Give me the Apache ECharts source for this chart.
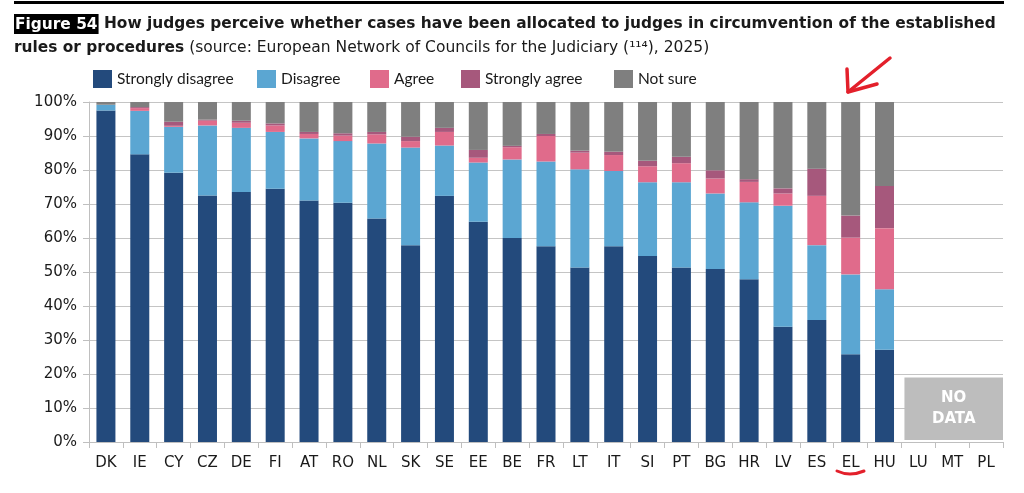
<!DOCTYPE html>
<html>
<head>
<meta charset="utf-8">
<script src="https://cdn.jsdelivr.net/npm/echarts@6/dist/echarts.min.js"></script>
<style>
html, body { margin: 0; padding: 0; background: #fff; }
#chart-container { width: 1024px; height: 493px; }
</style>
</head>
<body>
<div id="chart-container"></div>
<script>
// country codes along the x axis
let countries = ['DK', 'IE', 'CY', 'CZ', 'DE', 'FI', 'AT', 'RO', 'NL', 'SK', 'SE', 'EE', 'BE',
    'FR', 'LT', 'IT', 'SI', 'PT', 'BG', 'HR', 'LV', 'ES', 'EL', 'HU', 'LU', 'MT', 'PL'];
countries = countries.slice(0, 24).concat(['LU', 'MT', 'PL']);

// shares in %, LU / MT / PL have no data
let stronglyDisagree = [97.5, 84.6, 79.2, 72.5, 73.5, 74.5, 71.0, 70.4, 65.7, 57.9, 72.4, 64.8, 60.0,
    57.6, 51.3, 57.6, 54.7, 51.3, 50.9, 47.9, 33.9, 35.9, 25.8, 27.1, null, null, null];
let disagree = [1.7, 12.8, 13.5, 20.6, 18.9, 16.7, 18.3, 18.1, 22.1, 28.7, 14.8, 17.4, 23.1,
    24.9, 28.9, 22.1, 21.7, 25.1, 22.2, 22.6, 35.6, 22.0, 23.5, 17.8, null, null, null];
let agree = [0, 0.8, 0.3, 1.4, 1.5, 1.9, 1.3, 1.6, 2.7, 1.9, 4.0, 1.4, 3.6,
    7.5, 4.9, 4.7, 4.7, 5.6, 4.4, 6.0, 3.6, 14.5, 10.8, 18.0, null, null, null];
let stronglyAgree = [0, 0.3, 1.2, 0.3, 0.6, 0.6, 0.6, 0.7, 0.7, 1.3, 1.2, 2.3, 0.4,
    0.6, 0.6, 1.0, 1.6, 1.9, 2.4, 0.8, 1.5, 8.0, 6.5, 12.4, null, null, null];
let notSure = [0.8, 1.5, 5.8, 5.2, 5.5, 6.3, 8.8, 9.2, 8.8, 10.2, 7.6, 14.1, 12.9,
    9.4, 14.3, 14.6, 17.3, 16.1, 20.1, 22.7, 25.4, 19.6, 33.4, 24.7, null, null, null];

let seriesNames = ['Strongly disagree', 'Disagree', 'Agree', 'Strongly agree', 'Not sure'];
let seriesData = [stronglyDisagree, disagree, agree, stronglyAgree, notSure];
let colors = ['#234a7c', '#5ba6d2', '#e06b8b', '#a6587c', '#7f7f7f'];
let legendLeft = [88, 252, 365, 456, 609];

let dom = document.getElementById('chart-container');
let myChart = echarts.init(dom, null, { renderer: 'canvas' });

let fontAxis = 'DejaVu Sans';

let option = {
    animation: false,
    title: {
        left: 14,
        top: 12,
        padding: 0,
        text: '{fig|Figure 54}{b| How judges perceive whether cases have been allocated to judges in circumvention of the established}\n' +
            '{b|rules or procedures}{n| (source: European Network of Councils for the Judiciary (¹¹⁴), 2025)}',
        textStyle: {
            rich: {
                fig: { fontFamily: 'DejaVu Sans', fontWeight: 'bold', fontSize: 15.4, color: '#fff', backgroundColor: '#000', padding: [3, 1, 2, 1], lineHeight: 22 },
                b: { fontFamily: 'DejaVu Sans', fontWeight: 'bold', fontSize: 15.4, color: '#1a1a1a', lineHeight: 24 },
                n: { fontFamily: 'DejaVu Sans', fontWeight: 'normal', fontSize: 15.5, color: '#1a1a1a', lineHeight: 24 }
            }
        }
    },
    legend: seriesNames.map(function(name, i) {
        return {
            data: [name],
            left: legendLeft[i],
            top: 65,
            itemWidth: 19,
            itemHeight: 18,
            itemGap: 10,
            icon: 'rect',
            textStyle: { fontFamily: 'Lato', fontSize: 15.5, color: '#1a1a1a', padding: [2, 0, 0, 0] },
            selectedMode: false
        };
    }),
    grid: { left: 89, right: 21, top: 102, bottom: 51 },
    xAxis: {
        type: 'category',
        data: countries,
        axisLine: { lineStyle: { color: '#bfbfbf' } },
        axisTick: { show: true, length: 6, lineStyle: { color: '#bfbfbf' } },
        axisLabel: { fontFamily: fontAxis, fontSize: 15, color: '#1a1a1a', margin: 14, interval: 0 }
    },
    yAxis: {
        type: 'value',
        min: 0,
        max: 100,
        interval: 10,
        axisLine: { show: true, lineStyle: { color: '#bfbfbf' } },
        axisTick: { show: true, length: 6, lineStyle: { color: '#bfbfbf' } },
        axisLabel: { formatter: '{value}%', fontFamily: fontAxis, fontSize: 15, color: '#1a1a1a', margin: 12 },
        splitLine: { lineStyle: { color: '#c4c4c4' } }
    },
    series: seriesNames.map(function(name, i) {
        return {
            name: name,
            type: 'bar',
            stack: 'total',
            barWidth: 19,
            itemStyle: { color: colors[i] },
            data: seriesData[i]
        };
    })
};

myChart.setOption(option);

// grey "NO DATA" panel over LU, MT, PL
let band = myChart.convertToPixel({ xAxisIndex: 0 }, 'MT') - myChart.convertToPixel({ xAxisIndex: 0 }, 'LU');
let x0 = myChart.convertToPixel({ xAxisIndex: 0 }, 'LU') - band / 2 + 3;
let x1 = myChart.convertToPixel({ xAxisIndex: 0 }, 'PL') + band / 2;
let yTop = myChart.convertToPixel({ yAxisIndex: 0 }, 19);
let yBot = myChart.convertToPixel({ yAxisIndex: 0 }, 0) - 2;

myChart.setOption({
    graphic: [
        // rule above the title
        { type: 'rect', shape: { x: 14, y: 1, width: 990, height: 3 }, style: { fill: '#000' } },
        { type: 'rect', shape: { x: x0, y: yTop, width: x1 - x0, height: yBot - yTop }, style: { fill: '#bdbdbd' }, z: 10 },
        {
            type: 'text', x: (x0 + x1) / 2, y: (yTop + yBot) / 2, z: 11,
            style: { text: 'NO\nDATA', fill: '#fff', font: 'bold 15px "DejaVu Sans"', align: 'center', verticalAlign: 'middle', lineHeight: 21 }
        },
        // red hand-drawn arrow pointing at EL
        { type: 'polyline', shape: { points: [[890, 58], [848, 92]] }, style: { stroke: '#e3202b', lineWidth: 3.5, lineCap: 'round' }, z: 20 },
        { type: 'polyline', shape: { points: [[847, 69], [848, 92], [877, 84]] }, style: { stroke: '#e3202b', lineWidth: 3.5, lineCap: 'round', lineJoin: 'round', fill: null }, z: 20 },
        // underline under EL
        { type: 'polyline', shape: { points: [[837, 471], [850, 474], [864, 471]], smooth: 0.5 }, style: { stroke: '#e3202b', lineWidth: 3, lineCap: 'round', fill: null }, z: 20 }
    ]
});

window.addEventListener('resize', myChart.resize);
</script>
</body>
</html>
